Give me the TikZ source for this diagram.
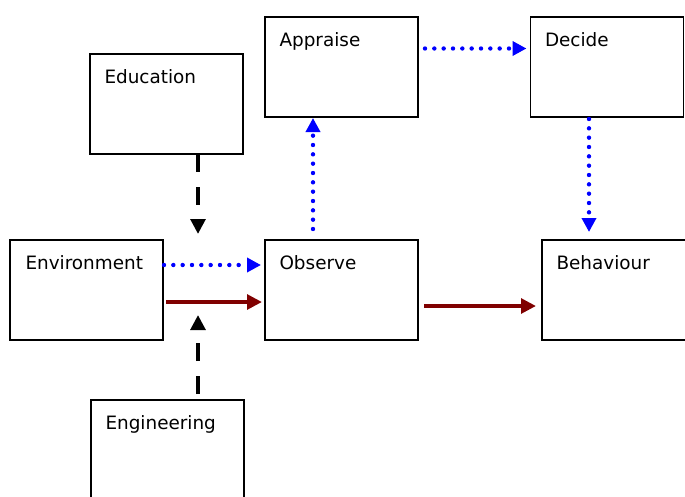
\documentclass[tikz,border=0pt]{standalone}
\usepackage{fontspec}
\setmainfont{DejaVu Sans}
\usetikzlibrary{arrows.meta,calc}
\tikzset{every picture/.style={line width=0.75pt}}
\tikzset{
  blockbox/.style={draw, line width=1.2pt, rectangle, minimum width=114.75pt, minimum height=75pt, inner sep=0pt, outer sep=0pt},
  blocktext/.style={anchor=base west, inner sep=0pt, font=\fontsize{13.8}{16}\selectfont},
  dotlink/.style={draw={rgb,255:red,0;green,0;blue,255}, line width=3.3pt, line cap=round, dash pattern=on 0pt off 7pt, -{Triangle[length=10.5pt,width=10.5pt]}},
  dashlink/.style={draw=black, line width=3pt, dash pattern=on 13.5pt off 11.25pt, -{Triangle[length=11.25pt,width=11pt]}},
  solidlink/.style={draw={rgb,255:red,128;green,0;blue,0}, line width=3pt, -{Triangle[length=11.25pt,width=11pt]}}
}

\begin{document}
\begin{tikzpicture}[x=0.75pt,y=0.75pt,yscale=-1,xscale=1]
\useasboundingbox (0,0) rectangle (685,496);
\clip (0,0) rectangle (685,496);

%Shape: Rectangle [Education]
\node [blockbox] (edu) at (166.5,104) {};
%Shape: Rectangle [Appraise]
\node [blockbox] (app) at (341.5,67) {};
%Shape: Rectangle [Decide]
\node [blockbox] (dec) at (607,67) {};
%Shape: Rectangle [Environment]
\node [blockbox] (env) at (86.5,290) {};
%Shape: Rectangle [Observe]
\node [blockbox] (obs) at (341.5,290) {};
%Shape: Rectangle [Behaviour]
\node [blockbox] (beh) at (618.5,290) {};
%Shape: Rectangle [Engineering]
\node [blockbox] (eng) at (167.5,450) {};

% free ends of the dashed lines
\coordinate (edutip) at (198,234);
\coordinate (engtip) at (198,315);

%Straight Lines [Education down]
\draw [dashlink] (edutip |- edu.south) -- (edutip) ;
%Straight Lines [Engineering up]
\draw [dashlink, shorten <=4.5pt] (engtip |- eng.north) -- (engtip) ;
%Straight Lines [Environment to Observe, dotted]
\draw [dotlink] ($(env.east)+(1,-25)$) -- ($(obs.west)+(-4,-25)$) ;
%Straight Lines [Environment to Observe, solid]
\draw [solidlink] ($(env.east)+(3,12)$) -- ($(obs.west)+(-3,12)$) ;
%Straight Lines [Observe to Appraise]
\draw [dotlink] ($(obs.north)+(-28.5,-11)$) -- ($(app.south)+(-28.5,1)$) ;
%Straight Lines [Appraise to Decide]
\draw [dotlink] ($(app.east)+(7,-18.5)$) -- ($(dec.west)+(-4,-18.5)$) ;
%Straight Lines [Decide to Behaviour]
\draw [dotlink] ($(dec.south)+(-18,2)$) -- ($(beh.north)+(-29.5,-8)$) ;
%Straight Lines [Observe to Behaviour]
\draw [solidlink] ($(obs.east)+(6,16)$) -- ($(beh.west)+(-6,16)$) ;

% Text Node
\node [blocktext] (edutxt) at ($(edu.north west)+(14,29)$) {Education};
% Text Node
\node [blocktext] (apptxt) at ($(app.north west)+(14,29)$) {Appraise};
% Text Node
\node [blocktext] (dectxt) at ($(dec.north west)+(14,29)$) {Decide};
% Text Node
\node [blocktext] (envtxt) at ($(env.north west)+(15,29)$) {Environment};
% Text Node
\node [blocktext] (obstxt) at ($(obs.north west)+(14,29)$) {Observe};
% Text Node
\node [blocktext] (behtxt) at ($(beh.north west)+(14,29)$) {Behaviour};
% Text Node
\node [blocktext] (engtxt) at ($(eng.north west)+(14,29)$) {Engineering};

\end{tikzpicture}
\end{document}
